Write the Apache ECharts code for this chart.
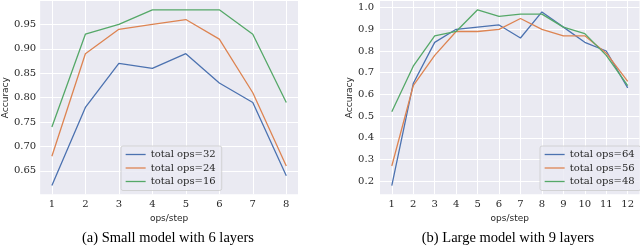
<!DOCTYPE html>
<html>
<head>
<meta charset="utf-8">
<script src="https://cdn.jsdelivr.net/npm/echarts@6/dist/echarts.min.js"></script>
<style>html,body{margin:0;padding:0;background:#fff}#c{width:640px;height:246px}</style>
</head>
<body>
<div id="c"></div>
<script>
// ---- data ----
const stepsA = [1, 2, 3, 4, 5, 6, 7, 8];
const ops32 = [0.62, 0.78, 0.87, 0.86, 0.89, 0.83, 0.79, 0.64];
const ops24 = [0.68, 0.89, 0.94, 0.95, 0.96, 0.92, 0.81, 0.66];
const ops16 = [0.74, 0.93, 0.95, 0.98, 0.98, 0.98, 0.93, 0.79];

const stepsB = [1, 2, 3, 4, 5, 6, 7, 8, 9, 10, 11, 12];
const ops64 = [0.18, 0.65, 0.84, 0.90, 0.91, 0.92, 0.86, 0.98, 0.91, 0.84, 0.80, 0.63];
const ops56 = [0.27, 0.64, 0.78, 0.89, 0.89, 0.90, 0.95, 0.90, 0.87, 0.87, 0.79, 0.66];
const ops48 = [0.52, 0.73, 0.87, 0.89, 0.99, 0.96, 0.97, 0.97, 0.91, 0.88, 0.78, 0.64];

const yTicksA = [0.65, 0.70, 0.75, 0.80, 0.85, 0.90, 0.95];
const yTicksB = [0.2, 0.3, 0.4, 0.5, 0.6, 0.7, 0.8, 0.9, 1.0];

const namesA = ['total ops=32', 'total ops=24', 'total ops=16'];
const namesB = ['total ops=64', 'total ops=56', 'total ops=48'];
const captionA = '(a) Small model with 6 layers';
const captionB = '(b) Large model with 9 layers';

// ---- style ----
const colors = ['#4C72B0', '#DD8452', '#55A868'];
const bg = '#EAEAF2';
const txt = '#262626';
const serif = 'DejaVu Serif';
const sans = 'DejaVu Sans';

function zip(xs, ys) { return xs.map((x, i) => [x, ys[i]]); }

function xAxisDef(idx, ticks, min, max) {
  return {
    type: 'value', gridIndex: idx, min: min, max: max,
    name: 'ops/step', nameLocation: 'middle', nameGap: 17,
    nameTextStyle: { fontFamily: sans, fontSize: 9, color: txt },
    axisLine: { show: false },
    axisTick: { show: false, customValues: ticks },
    axisLabel: { customValues: ticks, margin: 5, fontFamily: serif, fontSize: 10, color: txt,
      formatter: v => String(v) },
    splitLine: { show: true, lineStyle: { color: '#ffffff', width: 1 } }
  };
}
function yAxisDef(idx, ticks, min, max, dec, margin, gap) {
  return {
    type: 'value', gridIndex: idx, min: min, max: max,
    name: 'Accuracy', nameLocation: 'middle', nameGap: gap,
    nameTextStyle: { fontFamily: sans, fontSize: 9, color: txt },
    axisLine: { show: false },
    axisTick: { show: false, customValues: ticks },
    axisLabel: { customValues: ticks, margin: margin, fontFamily: serif, fontSize: 10, color: txt,
      formatter: v => v.toFixed(dec) },
    splitLine: { show: true, lineStyle: { color: '#ffffff', width: 1 } }
  };
}
function lineSeries(name, xs, ys, idx, color) {
  return {
    type: 'line', name: name, xAxisIndex: idx, yAxisIndex: idx,
    data: zip(xs, ys), symbol: 'none', animation: false,
    lineStyle: { color: color, width: 1.3 }, itemStyle: { color: color }
  };
}
function legendDef(names, left) {
  return {
    data: names, orient: 'vertical', left: left, top: 146,
    padding: [3.5, 6, 4, 4], itemGap: 3.5, itemWidth: 20, itemHeight: 10,
    backgroundColor: 'rgba(234,234,242,0.8)', borderColor: '#cccccc', borderWidth: 0.8, borderRadius: 2,
    itemStyle: { opacity: 0 },
    lineStyle: { width: 1.3 },
    textStyle: { fontFamily: serif, fontSize: 10, color: txt },
    selectedMode: false
  };
}
function captionDef(text, cx) {
  return { text: text, left: cx, top: 231, textAlign: 'center', padding: 0,
    textStyle: { fontFamily: 'Liberation Serif', fontSize: 14.5, fontWeight: 'normal', color: '#000' } };
}

const chart = echarts.init(document.getElementById('c'), null, { renderer: 'canvas' });
chart.setOption({
  animation: false,
  backgroundColor: '#ffffff',
  title: [captionDef(captionA, 168), captionDef(captionB, 508)],
  grid: [
    { left: 39, right: 342, top: 1, bottom: 51.7, show: true, backgroundColor: bg, borderWidth: 0 },
    { left: 380, right: 0.5, top: 1, bottom: 51.7, show: true, backgroundColor: bg, borderWidth: 0 }
  ],
  xAxis: [xAxisDef(0, stepsA, 0.65, 8.35), xAxisDef(1, stepsB, 0.45, 12.55)],
  yAxis: [yAxisDef(0, yTicksA, 0.602, 0.998, 2, 4, 29.5), yAxisDef(1, yTicksB, 0.1395, 1.0305, 1, 6, 24)],
  legend: [legendDef(namesA, 121), legendDef(namesB, 540)],
  series: [
    lineSeries(namesA[0], stepsA, ops32, 0, colors[0]),
    lineSeries(namesA[1], stepsA, ops24, 0, colors[1]),
    lineSeries(namesA[2], stepsA, ops16, 0, colors[2]),
    lineSeries(namesB[0], stepsB, ops64, 1, colors[0]),
    lineSeries(namesB[1], stepsB, ops56, 1, colors[1]),
    lineSeries(namesB[2], stepsB, ops48, 1, colors[2])
  ]
});
</script>
</body>
</html>
